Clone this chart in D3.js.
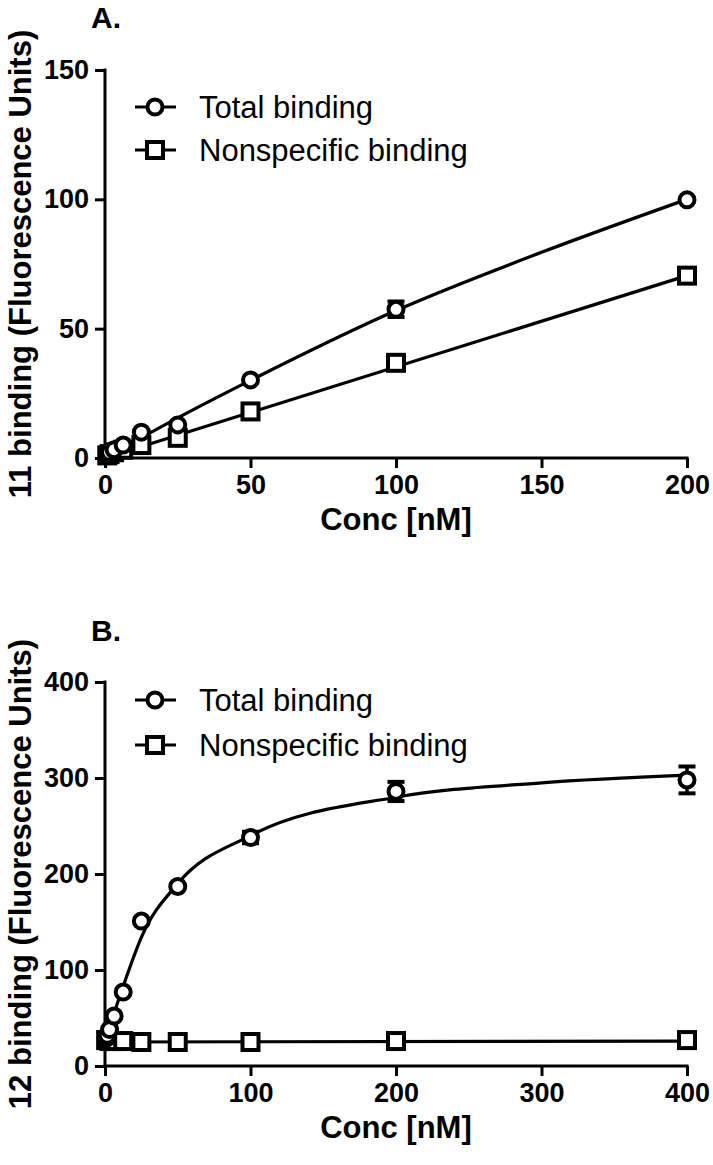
<!DOCTYPE html>
<html><head><meta charset="utf-8">
<script src="https://cdn.jsdelivr.net/npm/d3@7"></script>
<style>
html,body{margin:0;padding:0;background:#fff;}
text{font-family:"Liberation Sans",Arial,sans-serif;fill:#000;}
</style></head>
<body>
<svg id="chart" width="713" height="1165"></svg>
<script>
// ---------- Panel A data ----------
const concA = [0.78, 1.56, 3.13, 6.25, 12.5, 25, 50, 100, 200];
const totalA = [1.5, 2.2, 3.2, 5.0, 10.0, 12.8, 30.2, 57.5, 99.8];
const totalErrA = [0, 0, 0, 0, 0, 0, 0.5, 3, 0.8];
const nsA = [1.0, 1.5, 2.2, 3.2, 5.0, 7.8, 18.0, 36.8, 70.5];
const nsErrA = [0, 0, 0, 0, 0, 0, 0.5, 0.8, 0.8];
const fitTotalA = [[0, 0], [25, 15.5], [50, 30], [100, 57], [150, 79.5], [200, 100]];
const fitNsA = [[0, 0], [200, 70.5]];
const xTicksA = [0, 50, 100, 150, 200];
const yTicksA = [0, 50, 100, 150];

// ---------- Panel B data ----------
const concB = [0.78, 1.56, 3.13, 6.25, 12.5, 25, 50, 100, 200, 400];
const totalB = [29, 32, 38, 52, 77, 151, 187, 238, 286, 298];
const totalErrB = [0, 0, 0, 0, 0, 0, 0, 6, 10, 14];
const nsB = [27, 27, 26, 26, 26, 25, 25, 25, 26, 27];
const nsErrB = [0, 0, 0, 0, 0, 0, 0, 0, 0, 0];
const fitTotalB = [[0, 26], [6.25, 55], [12.5, 83], [25, 134], [50, 190], [100, 240], [200, 280], [300, 295], [400, 303]];
const fitNsB = [[0, 25], [400, 26]];
const xTicksB = [0, 100, 200, 300, 400];
const yTicksB = [0, 100, 200, 300, 400];

const legendLabels = ["Total binding", "Nonspecific binding"];

const svg = d3.select("#chart");

function drawPanel(o) {
  const x = d3.scaleLinear().domain(o.xDomain).range([o.left, o.right]);
  const y = d3.scaleLinear().domain(o.yDomain).range([o.bottom, o.top]);
  const g = svg.append("g");

  // axes
  const xa = g.append("g").attr("transform", `translate(0,${o.bottom})`)
    .call(d3.axisBottom(x).tickValues(o.xTicks).tickSize(10).tickSizeOuter(0).tickPadding(7));
  const ya = g.append("g").attr("transform", `translate(${o.left},0)`)
    .call(d3.axisLeft(y).tickValues(o.yTicks).tickSize(10).tickSizeOuter(0).tickPadding(6));
  [xa, ya].forEach(a => {
    a.select(".domain").attr("stroke", "#000").attr("stroke-width", 3);
    a.selectAll(".tick line").attr("stroke", "#000").attr("stroke-width", 3);
    a.selectAll(".tick text").attr("font-size", 27).attr("font-weight", "bold")
      .attr("font-family", "Liberation Sans, Arial, sans-serif").attr("fill", "#000");
  });
  ya.select(".domain").attr("d", `M0,${o.bottom + 1.5}V${o.top - 1.5}`);
  xa.select(".domain").attr("d", `M${o.left - 1.5},0H${o.right + 1.5}`);

  // titles
  g.append("text").attr("x", (o.left + o.right) / 2).attr("y", o.bottom + 72)
    .attr("text-anchor", "middle").attr("font-size", 31).attr("font-weight", "bold").text("Conc [nM]");
  g.append("text").attr("transform", `translate(${o.ytitleX},${(o.top + o.bottom) / 2}) rotate(-90)`)
    .attr("text-anchor", "middle").attr("font-size", 31).attr("font-weight", "bold").text(o.yTitle);
  g.append("text").attr("x", o.left - 14).attr("y", o.labelY)
    .attr("font-size", 30).attr("font-weight", "bold").text(o.panelLabel);

  // fit lines
  const line = d3.line().x(d => x(d[0])).y(d => y(d[1])).curve(d3.curveMonotoneX);
  [o.fitTotal, o.fitNs].forEach(f => {
    g.append("path").attr("d", line(f)).attr("fill", "none").attr("stroke", "#000").attr("stroke-width", 3.2);
  });

  // error bars
  function errBars(vals, errs) {
    vals.forEach((v, i) => {
      const e = errs[i];
      if (!e) return;
      const cx = x(o.conc[i]);
      g.append("line").attr("x1", cx).attr("x2", cx).attr("y1", y(v - e)).attr("y2", y(v + e))
        .attr("stroke", "#000").attr("stroke-width", 3.5);
      [v - e, v + e].forEach(yy => g.append("line").attr("x1", cx - 8.5).attr("x2", cx + 8.5)
        .attr("y1", y(yy)).attr("y2", y(yy)).attr("stroke", "#000").attr("stroke-width", 4));
    });
  }
  errBars(o.ns, o.nsErr);
  errBars(o.total, o.totalErr);

  // markers
  g.selectAll(null).data(o.ns).enter().append("rect")
    .attr("x", (d, i) => x(o.conc[i]) - 8).attr("y", d => y(d) - 8)
    .attr("width", 16).attr("height", 16).attr("fill", "#fff").attr("stroke", "#000").attr("stroke-width", 4);
  g.selectAll(null).data(o.total).enter().append("circle")
    .attr("cx", (d, i) => x(o.conc[i])).attr("cy", d => y(d)).attr("r", 7.5)
    .attr("fill", "#fff").attr("stroke", "#000").attr("stroke-width", 4);

  // legend
  legendLabels.forEach((lab, i) => {
    const ly = o.legendY[i];
    g.append("line").attr("x1", 135).attr("x2", 176).attr("y1", ly).attr("y2", ly)
      .attr("stroke", "#000").attr("stroke-width", 3.2);
    if (i === 0) {
      g.append("circle").attr("cx", 155).attr("cy", ly).attr("r", 7.5)
        .attr("fill", "#fff").attr("stroke", "#000").attr("stroke-width", 4);
    } else {
      g.append("rect").attr("x", 147).attr("y", ly - 8).attr("width", 16).attr("height", 16)
        .attr("fill", "#fff").attr("stroke", "#000").attr("stroke-width", 4);
    }
    g.append("text").attr("x", 199).attr("y", ly).attr("dy", "0.36em")
      .attr("font-size", 31).text(lab);
  });
}

drawPanel({
  xDomain: [0, 200], yDomain: [0, 150], left: 105, right: 687, top: 70, bottom: 458,
  xTicks: xTicksA, yTicks: yTicksA, conc: concA,
  total: totalA, totalErr: totalErrA, ns: nsA, nsErr: nsErrA,
  fitTotal: fitTotalA, fitNs: fitNsA,
  yTitle: "11 binding (Fluorescence Units)", ytitleX: 31, panelLabel: "A.", labelY: 28,
  legendY: [107, 150]
});
drawPanel({
  xDomain: [0, 400], yDomain: [0, 400], left: 105, right: 687, top: 682, bottom: 1066,
  xTicks: xTicksB, yTicks: yTicksB, conc: concB,
  total: totalB, totalErr: totalErrB, ns: nsB, nsErr: nsErrB,
  fitTotal: fitTotalB, fitNs: fitNsB,
  yTitle: "12 binding (Fluorescence Units)", ytitleX: 31, panelLabel: "B.", labelY: 641,
  legendY: [700, 745]
});
</script>
</body></html>
